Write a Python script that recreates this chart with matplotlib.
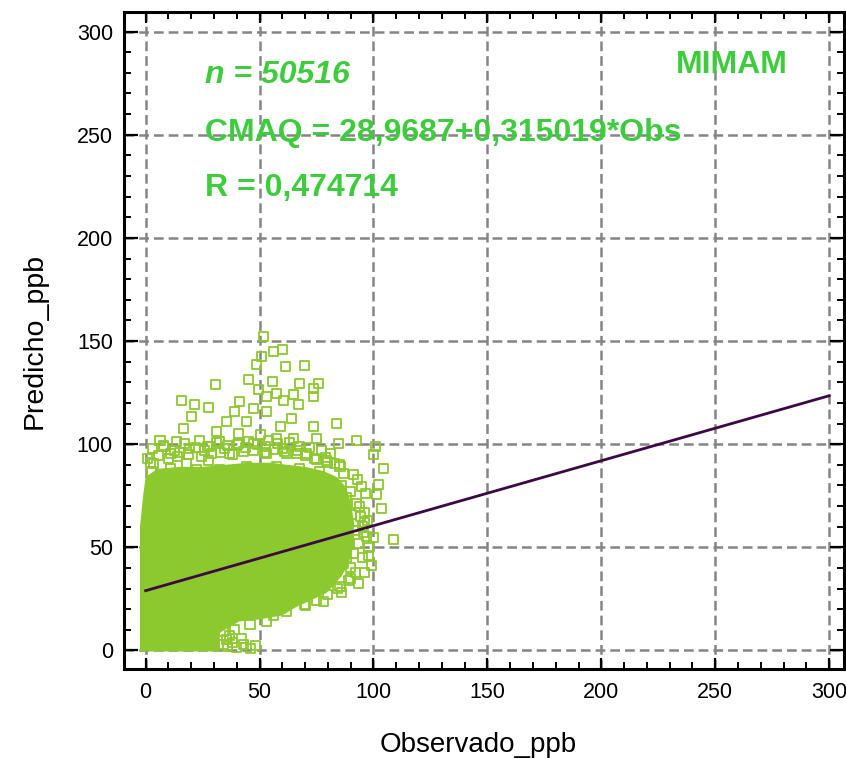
import matplotlib
matplotlib.use("Agg")
import matplotlib.pyplot as plt
from matplotlib.ticker import MultipleLocator

# ---------------- data ----------------
# dense, fully overlapping core of the 50516 points (outline of the solid area)
core_obs = [-2.5, -2.5, -1.0, 0.0, 5.0, 15.0, 25.0, 35.0, 45.0, 55.0, 62.0, 70.0,
            78.0, 84.0, 88.0, 90.0, 91.5, 91.0, 89.0, 86.0, 82.0, 79.5, 72.0,
            66.0, 60.0, 50.0, 41.0, 32.5, 32.5, 20.0, 5.0, -2.5]
core_pred = [-0.5, 60.0, 76.0, 84.0, 88.0, 89.0, 89.0, 90.0, 91.0, 91.0, 90.0, 89.0,
             87.0, 84.0, 79.0, 72.0, 62.0, 50.0, 42.0, 36.0, 31.0, 28.0, 24.0,
             21.0, 17.0, 15.0, 14.0, 8.5, -0.5, -0.5, -0.5, -0.5]

# individual (scattered) points around the core
obs_pts = [51.6, 60.1, 56.0, 61.2, 48.7, 50.9, 69.6, 30.7, 45.0, 55.7, 67.7, 75.8,
           49.4, 57.5, 64.8, 73.6, 73.6, 53.1, 15.8, 21.6, 27.5, 41.4, 47.2, 60.4,
           67.0, 20.2, 39.2, 53.1, 64.1, 35.6, 44.3, 83.8, 73.6, 16.5, 31.2, 40.7,
           59.0, 6.3, 13.6, 23.8, 32.6, 75.0, 84.5, 92.6, 100.7, 99.9, 104.3, 102.1,
           101.4, 103.6, 108.7, 99.9, 97.0, 99.2, 94.1, 91.1, 94.8, 89.7, 92.6, 91.1,
           93.3, 85.3, 78.0, 69.9, 53.1, 45.8, 35.6, 34.1, 3.3, 2.6, 10.7, 18.0,
           27.5, 37.0, 47.2, 53.1, 61.9, 70.7, 79.5, 85.3, 44.3, 57.5, 67.7, 76.5,
           10.7, 22.4, 32.6, 7.7, 19.4, 28.2, 40.7, 64.8, 57.5, 50.2,
           95.0, 96.0, 92.0, 98.0, 88.0, 95.0, 92.0, 87.0, 90.0, 86.0, 88.0, 96.0,
           36.0, 38.0, 40.0, 43.0, 46.0, 48.0, 37.0, 42.0, 34.0, 39.0,
           56.0, 62.0, 70.0, 75.0, 80.0, 84.0, 86.0, 89.0, 90.0, 88.0,
           # halo band just above the core
           3.0, 8.0, 12.5, 17.0, 22.0, 27.0, 31.0, 36.0, 40.5, 45.0, 49.0, 54.0,
           58.0, 63.0, 67.5, 72.0, 77.0, 81.0,
           1.0, 5.5, 10.0, 14.0, 19.0, 24.5, 29.0, 33.0, 38.0, 43.0, 47.5, 52.0,
           56.5, 61.0, 66.0, 70.0, 75.0, 80.0, 85.0,
           2.0, 15.0, 26.0, 34.5, 44.0, 52.5, 60.0, 66.5, 74.0, 79.0, 83.0, 87.0,
           93.0, 96.5, 94.0, 97.5, 90.5, 95.5, 98.0, 93.5, 89.0, 96.0]
pred_pts = [152.4, 146.0, 144.8, 137.6, 138.4, 142.4, 138.0, 129.0, 131.5, 130.3, 129.5, 129.5,
            126.3, 124.7, 123.9, 127.1, 123.0, 123.0, 121.4, 119.0, 117.9, 120.6, 117.4, 121.4,
            119.0, 113.3, 115.8, 115.8, 112.6, 110.9, 110.9, 110.1, 108.8, 107.7, 106.0, 105.3,
            108.5, 102.0, 101.2, 102.0, 101.2, 102.9, 100.4, 102.0, 99.1, 94.8, 88.0, 80.2,
            75.4, 68.6, 53.9, 54.9, 55.2, 41.0, 64.9, 85.1, 79.4, 77.0, 71.4, 47.1,
            32.6, 30.9, 23.7, 22.1, 14.0, 12.4, 5.1, 9.1, 90.7, 86.7, 95.6, 90.7,
            92.3, 95.6, 100.4, 95.6, 95.6, 95.6, 92.3, 89.1, 89.1, 89.1, 88.3, 86.7,
            88.3, 87.5, 87.5, 98.8, 98.0, 98.8, 100.4, 102.9, 102.9, 104.5,
            60.0, 67.0, 58.0, 50.0, 45.0, 45.0, 38.0, 42.0, 35.0, 80.0, 74.0, 62.0,
            2.0, 4.0, 1.5, 3.0, 1.0, 2.5, 7.0, 6.0, 3.0, 10.0,
            17.0, 19.0, 22.0, 24.0, 27.0, 30.0, 28.0, 34.0, 40.0, 50.0,
            98.0, 99.5, 97.0, 100.5, 98.5, 99.0, 101.0, 99.5, 100.0, 101.5, 100.0, 102.0,
            100.5, 101.0, 99.0, 98.5, 97.0, 95.5,
            93.0, 94.5, 93.0, 94.0, 95.0, 94.0, 95.5, 96.0, 95.0, 96.5, 97.0, 96.0,
            97.5, 96.5, 95.5, 94.5, 92.5, 91.0, 90.0,
            91.0, 96.0, 97.0, 98.0, 98.5, 99.0, 98.0, 97.0, 93.0, 93.5, 90.5, 86.0,
            83.0, 76.0, 70.0, 63.0, 66.0, 57.0, 46.0, 52.0, 55.0, 38.0]

# regression shown in the chart
fit_intercept = 28.9687
fit_slope = 0.315019
fit_obs = [0.0, 300.0]

n_label = "n = 50516"
eq_label = "CMAQ = 28,9687+0,315019*Obs"
r_label = "R = 0,474714"
model_label = "MIMAM"

x_ticks = [0, 50, 100, 150, 200, 250, 300]
y_ticks = [0, 50, 100, 150, 200, 250, 300]

# ---------------- styling ----------------
plt.rcParams['font.family'] = ['Liberation Sans', 'DejaVu Sans']
plt.rcParams['lines.scale_dashes'] = False

pt_green = '#8cc92d'
txt_green = '#3ccc3c'
line_col = '#3c0846'
grid_col = '#858585'

fig = plt.figure(figsize=(8.46, 7.58), dpi=100)
ax = fig.add_axes([124/846, 89/758, 720/846, 657/758])

ax.set_xlim(-9.5, 306.5)
ax.set_ylim(-9.0, 309.5)

# grid
for v in x_ticks:
    ax.axvline(v, color=grid_col, lw=1.8, dashes=(7, 3.6), zorder=1)
for v in y_ticks:
    ax.axhline(v, color=grid_col, lw=1.8, dashes=(7, 3.6), zorder=1)

# dense core + scattered points
ax.fill(core_obs, core_pred, color=pt_green, lw=0, zorder=2)
ax.scatter(obs_pts, pred_pts, marker='s', s=42, facecolors='none',
           edgecolors=pt_green, linewidths=1.3, zorder=3)

# regression line
fit_pred = [fit_intercept + fit_slope * v for v in fit_obs]
ax.plot(fit_obs, fit_pred, color=line_col, lw=2.0, zorder=4)

# ticks
ax.set_xticks(x_ticks)
ax.set_yticks(y_ticks)
ax.xaxis.set_minor_locator(MultipleLocator(10))
ax.yaxis.set_minor_locator(MultipleLocator(10))
ax.tick_params(which='both', direction='in', top=True, right=True,
               labelsize=15.5, colors='black')
ax.tick_params(axis='x', which='major', length=8, width=1.6, pad=9)
ax.tick_params(axis='x', which='minor', length=5, width=1.4)
ax.tick_params(axis='y', which='major', length=10, width=1.6, pad=8)
ax.tick_params(axis='y', which='minor', length=5, width=1.4)
for s in ax.spines.values():
    s.set_linewidth(2.2)
    s.set_color('black')

ax.set_xlabel('Observado_ppb', fontsize=20, va='center')
ax.set_ylabel('Predicho_ppb', fontsize=20.5, va='center')
ax.xaxis.set_label_coords((478-124)/720, (669-745)/657)
ax.yaxis.set_label_coords((35-124)/720, (669-341)/657)

# annotations
ax.text(26, 279, n_label, color=txt_green, fontsize=23, fontweight='bold',
        fontstyle='italic', va='center', ha='left', zorder=5)
ax.text(26, 251, eq_label, color=txt_green, fontsize=23, fontweight='bold',
        va='center', ha='left', zorder=5)
ax.text(26, 224, r_label, color=txt_green, fontsize=23, fontweight='bold',
        va='center', ha='left', zorder=5)
ax.text(232.8, 284, model_label, color=txt_green, fontsize=23, fontweight='bold',
        va='center', ha='left', zorder=5)

fig.savefig('out.png', dpi=100)
